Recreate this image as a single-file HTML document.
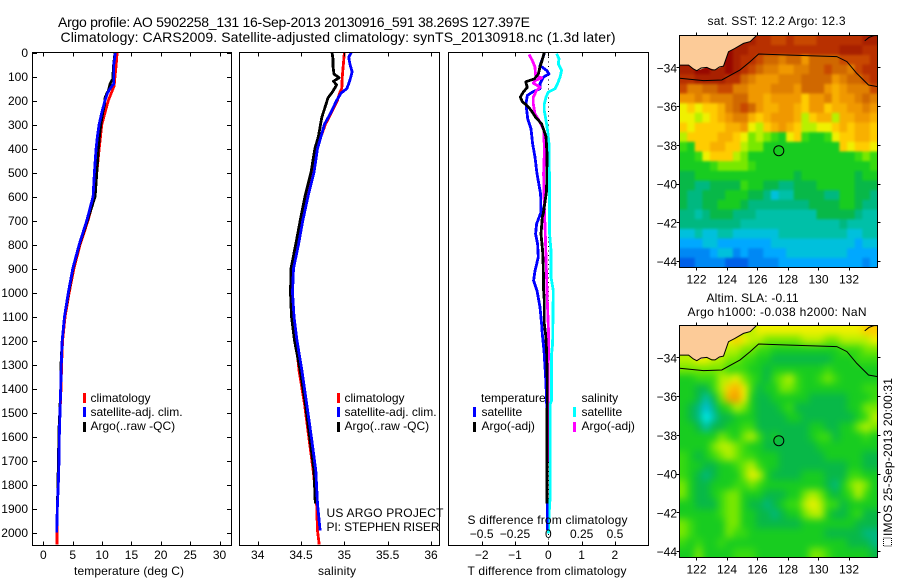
<!DOCTYPE html>
<html>
<head>
<meta charset="utf-8">
<title>Argo profile</title>
<style>
html,body{margin:0;padding:0;background:#fff}
svg{display:block}
text{font-family:"Liberation Sans",sans-serif;font-size:12px;fill:#000}
.t{font-size:14px}
</style>
</head>
<body>
<svg id="fig" width="900" height="580" viewBox="0 0 900 580" xmlns="http://www.w3.org/2000/svg">
<defs>
<filter id="blur1" x="-10%" y="-10%" width="120%" height="120%" color-interpolation-filters="sRGB"><feGaussianBlur stdDeviation="1.2"/></filter>
<filter id="blur2" x="-10%" y="-10%" width="120%" height="120%" color-interpolation-filters="sRGB"><feGaussianBlur stdDeviation="3.6"/></filter>
<clipPath id="clip-m1"><rect x="679.5" y="35.5" width="198" height="232"/></clipPath>
<clipPath id="clip-m2"><rect x="679.5" y="325.5" width="198" height="232"/></clipPath>
</defs>
<rect width="900" height="580" fill="#fff"/>
<text class="t" x="58" y="27" textLength="472">Argo profile: AO 5902258_131 16-Sep-2013 20130916_591 38.269S 127.397E</text>
<text class="t" x="60.5" y="42" textLength="555">Climatology: CARS2009. Satellite-adjusted climatology: synTS_20130918.nc (1.3d later)</text>

<g id="p1"></g>
<g id="p2"></g>
<g id="p3"></g>
<g id="m1"></g>
<g id="m2"></g>

<g>
<rect x="83" y="393" width="3" height="10" fill="#f00"/>
<text x="90.5" y="402">climatology</text>
<rect x="83" y="407" width="3" height="10" fill="#00f"/>
<text x="90.5" y="416">satellite-adj. clim.</text>
<rect x="83" y="422" width="3" height="10" fill="#000"/>
<text x="90.5" y="430">Argo(..raw -QC)</text>
</g>
<g>
<rect x="337" y="393" width="3" height="10" fill="#f00"/>
<text x="344.5" y="402">climatology</text>
<rect x="337" y="407" width="3" height="10" fill="#00f"/>
<text x="344.5" y="416">satellite-adj. clim.</text>
<rect x="337" y="422" width="3" height="10" fill="#000"/>
<text x="344.5" y="430">Argo(..raw -QC)</text>
</g>
<g>
<text x="481" y="402">temperature</text>
<rect x="473" y="407" width="3" height="10" fill="#00f"/>
<text x="481.5" y="416">satellite</text>
<rect x="473" y="422" width="3" height="10" fill="#000"/>
<text x="481.5" y="430">Argo(-adj)</text>
<text x="581.5" y="402">salinity</text>
<rect x="573" y="407" width="3" height="10" fill="#0ff"/>
<text x="581.5" y="416">satellite</text>
<rect x="573" y="422" width="3" height="10" fill="#f0f"/>
<text x="581.5" y="430">Argo(-adj)</text>
</g>

<text x="74" y="575" textLength="110">temperature (deg C)</text>
<text x="318" y="575" textLength="38">salinity</text>
<text x="467.5" y="575" textLength="159">T difference from climatology</text>
<text x="467.5" y="524" textLength="160">S difference from climatology</text>
<text x="326.5" y="517" textLength="117">US ARGO PROJECT</text>
<text x="326.5" y="531" textLength="113">PI: STEPHEN RISER</text>

<text x="707.5" y="25" textLength="138">sat. SST: 12.2  Argo: 12.3</text>
<text x="706.5" y="302" textLength="92">Altim. SLA: -0.11</text>
<text x="687.5" y="316" textLength="179">Argo h1000: -0.038 h2000: NaN</text>
<rect x="883.5" y="538" width="8" height="8" fill="none" stroke="#000" stroke-width="1" stroke-dasharray="1 1"/>
<text transform="translate(892,536) rotate(-90)" textLength="158">IMOS 25-Sep-2013 20:00:31</text>
</svg>

<script>
// ---------- profile data ----------
const depthTicks = [0,100,200,300,400,500,600,700,800,900,1000,1100,1200,1300,1400,1500,1600,1700,1800,1900,2000];
const tempTicks = [0,5,10,15,20,25,30];
const salTicks = [34,34.5,35,35.5,36];
const diffTTicks = [-2,-1,0,1,2];
const diffSTicks = [-0.5,-0.25,0,0.25,0.5];
const diffSTickLabels = ['\u22120.5','\u22120.25','0','0.25','0.5'];
const lonTicks = [122,124,126,128,130,132];
const latTicks = [34,36,38,40,42,44];

const climTDepth = [0,50,100,140,200,300,400,500,600,700,800,900,1000,1100,1200,1300,1400,1500,1600,1700,1800,1900,2000,2050];
const climT = [12.55,12.4,12.2,12.05,11.05,9.95,9.5,9.1,8.7,7.6,6.25,5.2,4.4,3.7,3.27,3.1,3.0,2.83,2.71,2.66,2.54,2.37,2.3,2.3];
const satTDepth = [0,50,100,130,150,170,200,250,300,350,400,500,600,700,800,900,1000,1100,1200,1300,1400,1500,1600,1700,1800,1900,2000];
const satT = [12.27,12.0,12.0,12.0,11.36,10.9,10.5,9.95,9.49,9.2,8.98,8.69,8.47,7.4,6.1,5.0,4.25,3.6,3.2,3.05,2.95,2.83,2.71,2.66,2.54,2.37,2.27];
const argoTDepth = [0,60,110,130,160,170,190,220,250,300,350,400,500,600,700,800,900,1000,1100,1200,1300,1400,1500,1560,1700,1880];
const argoT = [12.2,11.93,11.82,11.36,11.07,10.8,10.5,10.4,10.1,9.78,9.54,9.37,9.1,8.8,7.5,6.15,5.05,4.3,3.6,3.2,3.0,2.95,2.8,2.68,2.55,2.4];

const climSDepth = [0,100,150,165,200,250,300,350,400,500,600,700,800,900,1000,1100,1200,1325,1464,1603,1742,1880,1992,2050];
const climS = [35.0,34.976,34.97,34.95,34.92,34.85,34.78,34.73,34.68,34.63,34.565,34.51,34.459,34.407,34.402,34.413,34.442,34.477,34.54,34.59,34.64,34.68,34.69,34.71];
const satSDepth = [0,20,50,80,100,130,150,170,200,250,300,350,400,500,600,700,800,900,1000,1100,1200,1325,1464,1603,1742,1880,1992];
const satS = [35.08,35.05,35.065,35.09,35.077,35.05,35.03,34.96,34.91,34.845,34.77,34.73,34.69,34.65,34.58,34.52,34.471,34.413,34.402,34.419,34.454,34.51,34.565,34.62,34.67,34.69,34.72];
const argoSDepth = [0,30,60,90,105,120,135,160,190,225,270,350,400,500,600,700,800,900,1000,1100,1200,1325,1464,1603,1742,1880];
const argoS = [34.857,34.87,34.87,34.88,34.94,34.875,34.91,34.87,34.81,34.78,34.74,34.70,34.66,34.615,34.546,34.49,34.439,34.384,34.379,34.39,34.425,34.49,34.55,34.60,34.65,34.665];

const satDTDepth = [0,5,54,75,89,103,130,151,165,179,214,276,318,380,436,505,589,665,714,756,798,853,909,950,992,1061,1131,1173,1242,1311,1381,1422,1500,1800,1990];
const satDT = [-.12,-.12,-.25,-.05,.02,-.15,-.25,-.25,-.48,-.63,-.67,-.62,-.52,-.47,-.40,-.34,-.23,-.22,-.35,-.38,-.32,-.30,-.40,-.44,-.34,-.25,-.20,-.18,-.13,-.10,-.07,-.06,-.04,-.03,-.03];
const argoDTDepth = [0,30,60,90,110,122,145,165,186,205,220,240,270,297,330,350,422,575,672,686,756,825,895,990,1033,1130,1172,1242,1380,1600,1880];
const argoDT = [-.12,-.18,-.25,-.30,-.42,-.68,-.63,-.75,-.84,-.78,-.65,-.52,-.38,-.20,-.12,-.07,-.04,-.05,-.15,-.18,-.22,-.17,-.15,-.14,-.12,-.12,-.08,-.05,-.03,-.04,-.04];
const satDSDepth = [5,26,47,75,103,130,151,165,186,214,242,283,325,380,575,756,825,936,992,1214,1256,1450,1464,1853,1880,2005];
const satDS = [.0625,.08,.075,.1,.0875,.07,.05,0,-.0175,-.03,-.03,-.0175,-.005,.005,.01,.01,.02,.02,.0375,.0325,.025,.025,.015,.015,.01,0];
const argoDSDepth = [8,33,61,96,106,117,128,144,158,186,214,256,290,325,422,505,575,644,756,895,1033,1172,1311,1450,1464,1769,1866];
const argoDS = [-.145,-.12,-.1,-.095,-.05,-.1,-.1125,-.0625,-.0875,-.1125,-.1125,-.1,-.0625,-.0325,-.03,-.035,-.0325,-.03,-.0225,-.015,-.0075,.0025,0,0,-.005,-.0075,-.01];

// ---------- map data: level codes per half-degree cell, north to south ----------
const levelColors = {a:'#0060e8',b:'#0088f4',c:'#00a8ff',d:'#00c0dc',e:'#00c0a8',f:'#00b880',g:'#08b848',h:'#18cc20',i:'#38da10',j:'#78e800',k:'#b8f000',l:'#f0f000',m:'#ffcc00',n:'#f8b000',o:'#f09800',p:'#e08000',q:'#d06800',r:'#c84800',s:'#b83000',t:'#a82000',u:'#980800',x:'#00f0f0'};
const sstRows = [
".........tssrrsrrrsssssstt",
"......uttsssssssssssstttss",
"......utssrqqpqqoqqqqrrrrs",
"ttuuttutsrqppooppqqrqqprss",
"ssttttssqpooopppqqqqopqqrs",
"rppqqrrppooopppoqqqonopppr",
"oopopppqqoonoooomoopnoopqp",
"lmlmmnpqrqonnoonmoomnnoopo",
"llklmnoppnmnooonkmnnknnoon",
"mlmmmmnnolkmnonmkkllmnmnnm",
"kmmmmnnmljkjihlmihhilmmnnm",
"ihmmnnmmkjjhhhhhhhhhhmlmml",
"hhilmmmkjhhhhhhhhhhhhhhiji",
"hhhhijjjjihhhhhhhhhhhhhhhi",
"gghhhhhhhhhhhhhghhhhhhhghh",
"ggffggggihhggffggghhhhhggg",
"gffggghhhggfdeeggggffhhggf",
"gffgghhhgffffffffgggghhgff",
"ffefgggfffeeeeeeeegggggfee",
"ffffffffeeeeeeeeeeeeefeeee",
"ddeddeeddddddeeeeeeeeeddee",
"cccddcccccccdddddddddddcdd",
"bbbbcddbcbbcccddddddddcccc",
"aabbbbaaabbbbcccccccccccbc"
];
const slaRows = [
".........kllllllllllllllmm",
"......lmlkkjjjjjkkkjjkkkkl",
"......kkjjiihhhhhhhhhiiijj",
"kkllkkjjiihhgggggggghhhiii",
"jjjjjjiiihhghhhhhhhihhhhhh",
"hhiiikkljihgijkihhijihhhhh",
"hhggikmnlighhjjihhhhhhhhii",
"hhgegjnolhgghhhhhggggghhhi",
"hgfdfhikjhggghiggggggghhjj",
"hgfxegghhhgggghhggggggghik",
"hhgegghhiiggggggghhgghhjkj",
"hhhhhjihjkighgggghiighhhih",
"hhhhjkkjihhggggggghhhhhhhh",
"ihghijkjiihhhgggggghhhhhgg",
"ihhgghhijkihhggggggggghhgg",
"ihgfghhhjlkhgggghhhgggiihh",
"jhgghhhiijihhhhhhhhgfhjkjh",
"jhgghijjhhhggghhjkjhghikih",
"hhgggijjhggfghiiklkiighhhh",
"hhhhhijjhhggfghhjkkhgghigg",
"jihhhhjjhhgggggghhhhhhhggg",
"jihhhhjiihhhhhhhhhhgggggff",
"ihihhihhhhhhhhhhhhhhhhgggf",
"hhjhhhhiiihhhhhhhjjihhhhhg"
];
const landLon = [120.89,121.48,122.02,122.68,123.22,123.77,124.1,125.08,125.52,125.96,120.89];
const landLat = [33.85,33.85,34.14,33.97,34.1,33.9,33.16,32.73,32.64,32.3,32.3];
const coastLon = [120.89,121.2,121.48,121.8,122.02,122.3,122.68,123.0,123.22,123.5,123.77,124.1,124.5,125.08,125.52,125.96];
const coastLat = [33.85,33.85,33.85,34.05,34.14,34.0,33.97,34.1,34.1,33.95,33.9,33.16,33.0,32.73,32.64,32.3];
const islandLon = [133.03,133.3,133.55,133.65,133.87];
const islandLat = [32.6,32.43,32.35,32.33,32.33];
const contourLon = [120.89,122.46,123.66,124.86,125.52,126.07,127.92,131.2,131.86,132.51,133.28,133.87];
const contourLat = [34.53,34.65,34.62,34.1,33.67,33.28,33.33,33.41,33.67,34.28,34.88,34.96];
const floatLon = [127.397];
const floatLat = [38.269];

// ---------- helpers ----------
const NS = 'http://www.w3.org/2000/svg';
function mk(parent, tag, attrs, txt) {
  const e = document.createElementNS(NS, tag);
  for (const k in attrs) e.setAttribute(k, attrs[k]);
  if (txt !== undefined) e.textContent = txt;
  parent.appendChild(e);
  return e;
}
const depthY = d => 52.5 + d * 0.24;
const tempX = v => 43.4 + v * 5.87;
const salX = v => 257.7 + (v - 34) * 86.65;
const diffTX = v => 548.3 + v * 33.3;
const diffSX = v => 548.3 + v * 133.3;
function fmt(v){ return String(v).replace('-', '\u2212'); }

function profile(parent, xf, depths, values, color, w, name) {
  const pts = depths.map((d, i) => xf(values[i]).toFixed(1) + ',' + depthY(d).toFixed(1)).join(' ');
  const el = mk(parent, 'polyline', {points: pts, fill: 'none', stroke: color, 'stroke-width': w, 'shape-rendering': 'crispEdges', 'stroke-linejoin': 'round'});
  
  
}
function frame(parent, x0, x1, y0, y1) {
  const el = mk(parent, 'rect', {x: x0, y: y0, width: x1 - x0, height: y1 - y0, fill: 'none', stroke: '#000', 'stroke-width': 1, 'shape-rendering': 'crispEdges'});
  
  
}
function tick(parent, x1, y1, x2, y2) {
  const el = mk(parent, 'line', {x1, y1, x2, y2, stroke: '#000', 'stroke-width': 1, 'shape-rendering': 'crispEdges'});
  
  
}
function label(parent, x, y, anchor, s) {
  const el = mk(parent, 'text', {x, y, 'text-anchor': anchor}, s);
  
  
}
const PT = 52.5, PB = 545.5;
const LW = 2.8;
function xTicks(parent, vals, xf) {
  vals.forEach(v => {
    const x = Math.round(xf(v)) + 0.5;
    tick(parent, x, PT, x, PT + 4);
    tick(parent, x, PB, x, PB - 4);
  });
}

// ---------- temperature panel ----------
const p1 = document.getElementById('p1');
profile(p1, tempX, climTDepth, climT, '#f00', LW, 'climatology-temperature-line');
profile(p1, tempX, argoTDepth, argoT, '#000', LW, 'argo-temperature-line');
profile(p1, tempX, satTDepth, satT, '#00f', LW, 'satellite-temperature-line');
frame(p1, 32.5, 231.5, PT, PB);
xTicks(p1, tempTicks, tempX);
tempTicks.forEach(v => label(p1, tempX(v), 559, 'middle', fmt(v)));
depthTicks.forEach(d => {
  const y = Math.round(depthY(d)) + 0.5;
  tick(p1, 32.5, y, 37, y);
  tick(p1, 231.5, y, 227, y);
  label(p1, 28, depthY(d) + 4.5, 'end', String(d));
});

// ---------- salinity panel ----------
const p2 = document.getElementById('p2');
profile(p2, salX, climSDepth, climS, '#f00', LW, 'climatology-salinity-line');
profile(p2, salX, argoSDepth, argoS, '#000', LW, 'argo-salinity-line');
profile(p2, salX, satSDepth, satS, '#00f', LW, 'satellite-salinity-line');
frame(p2, 239.5, 439.5, PT, PB);
xTicks(p2, salTicks, salX);
salTicks.forEach(v => label(p2, salX(v), 559, 'middle', String(v)));

// ---------- difference panel ----------
const p3 = document.getElementById('p3');
const zeroLine = mk(p3, 'line', {x1: 548.5, y1: PT, x2: 548.5, y2: PB, stroke: '#000', 'stroke-width': 1, 'stroke-dasharray': '1 3.5'});


profile(p3, diffSX, satDSDepth, satDS, '#0ff', LW, 'satellite-salinity-difference-line');
profile(p3, diffTX, satDTDepth, satDT, '#00f', LW, 'satellite-temperature-difference-line');
profile(p3, diffSX, argoDSDepth, argoDS, '#f0f', LW, 'argo-salinity-difference-line');
profile(p3, diffTX, argoDTDepth, argoDT, '#000', LW, 'argo-temperature-difference-line');
frame(p3, 448.5, 648.5, PT, PB);
xTicks(p3, diffTTicks, diffTX);
diffTTicks.forEach(v => label(p3, diffTX(v), 559, 'middle', fmt(v)));
diffSTicks.forEach((v, i) => label(p3, diffSX(v), 538, 'middle', diffSTickLabels[i]));

// ---------- maps ----------
function drawMap(gid, rows, top, bottom, blurId) {
  const g = document.getElementById(gid);
  const L = 679.5, R = 877.5;
  const lonX = lon => 696.5 + (lon - 122) * 15.25;
  const latY = lat => bottom - (44.3 - lat) * 19.37;
  const clipG = mk(g, 'g', {'clip-path': 'url(#clip-' + gid + ')'});
  
  
  const cellG = mk(clipG, 'g', {filter: 'url(#' + blurId + ')'});
  
  
  const nCols = rows[0].length, nRows = rows.length;
  const cw = (R - L) / nCols, ch = (bottom - top) / nRows;
  const pad = 14;
  rows.forEach((row, j) => {
    const firstCode = row.replace(/\./g, '')[0];
    [...row].forEach((code, i) => {
      const fillCode = code === '.' ? firstCode : code;
      const x0 = L + i * cw - (i === 0 ? pad : 0);
      const x1 = L + (i + 1) * cw + (i === nCols - 1 ? pad : 0.4);
      const y0 = top + j * ch - (j === 0 ? pad : 0);
      const y1 = top + (j + 1) * ch + (j === nRows - 1 ? pad : 0.4);
      const c = mk(cellG, 'rect', {x: x0.toFixed(2), y: y0.toFixed(2), width: (x1 - x0).toFixed(2), height: (y1 - y0).toFixed(2), fill: levelColors[fillCode]});
      
      
    });
  });
  const poly = mk(clipG, 'polygon', {points: landLon.map((v, i) => lonX(v).toFixed(1) + ',' + latY(landLat[i]).toFixed(1)).join(' '), fill: '#fccb98'});
  
  
  const lineOf = (xs, ys, name) => {
    const l = mk(clipG, 'polyline', {points: xs.map((v, i) => lonX(v).toFixed(1) + ',' + latY(ys[i]).toFixed(1)).join(' '), fill: 'none', stroke: '#000', 'stroke-width': 1});
    
    
  };
  lineOf(coastLon, coastLat, 'coastline');
  lineOf(islandLon, islandLat, 'island-coastline');
  lineOf(contourLon, contourLat, 'depth-contour');
  const circ = mk(g, 'circle', {cx: lonX(floatLon[0]).toFixed(1), cy: latY(floatLat[0]).toFixed(1), r: 5, fill: 'none', stroke: '#000', 'stroke-width': 1});
  
  
  frame(g, L, R, top, bottom);
  lonTicks.forEach(v => {
    const x = Math.round(lonX(v) - 0.5) + 0.5;
    tick(g, x, top, x, top - 3);
    tick(g, x, bottom, x, bottom + 3);
    label(g, lonX(v), bottom + 16, 'middle', String(v));
  });
  latTicks.forEach(v => {
    const y = Math.round(latY(v) - 0.5) + 0.5;
    tick(g, L, y, L - 3, y);
    tick(g, R, y, R + 3, y);
    label(g, 677, latY(v) + 4.5, 'end', '\u2212' + v);
  });
}
drawMap('m1', sstRows, 35.5, 267.5, 'blur1');
drawMap('m2', slaRows, 325.5, 557.5, 'blur2');
</script>
</body>
</html>
